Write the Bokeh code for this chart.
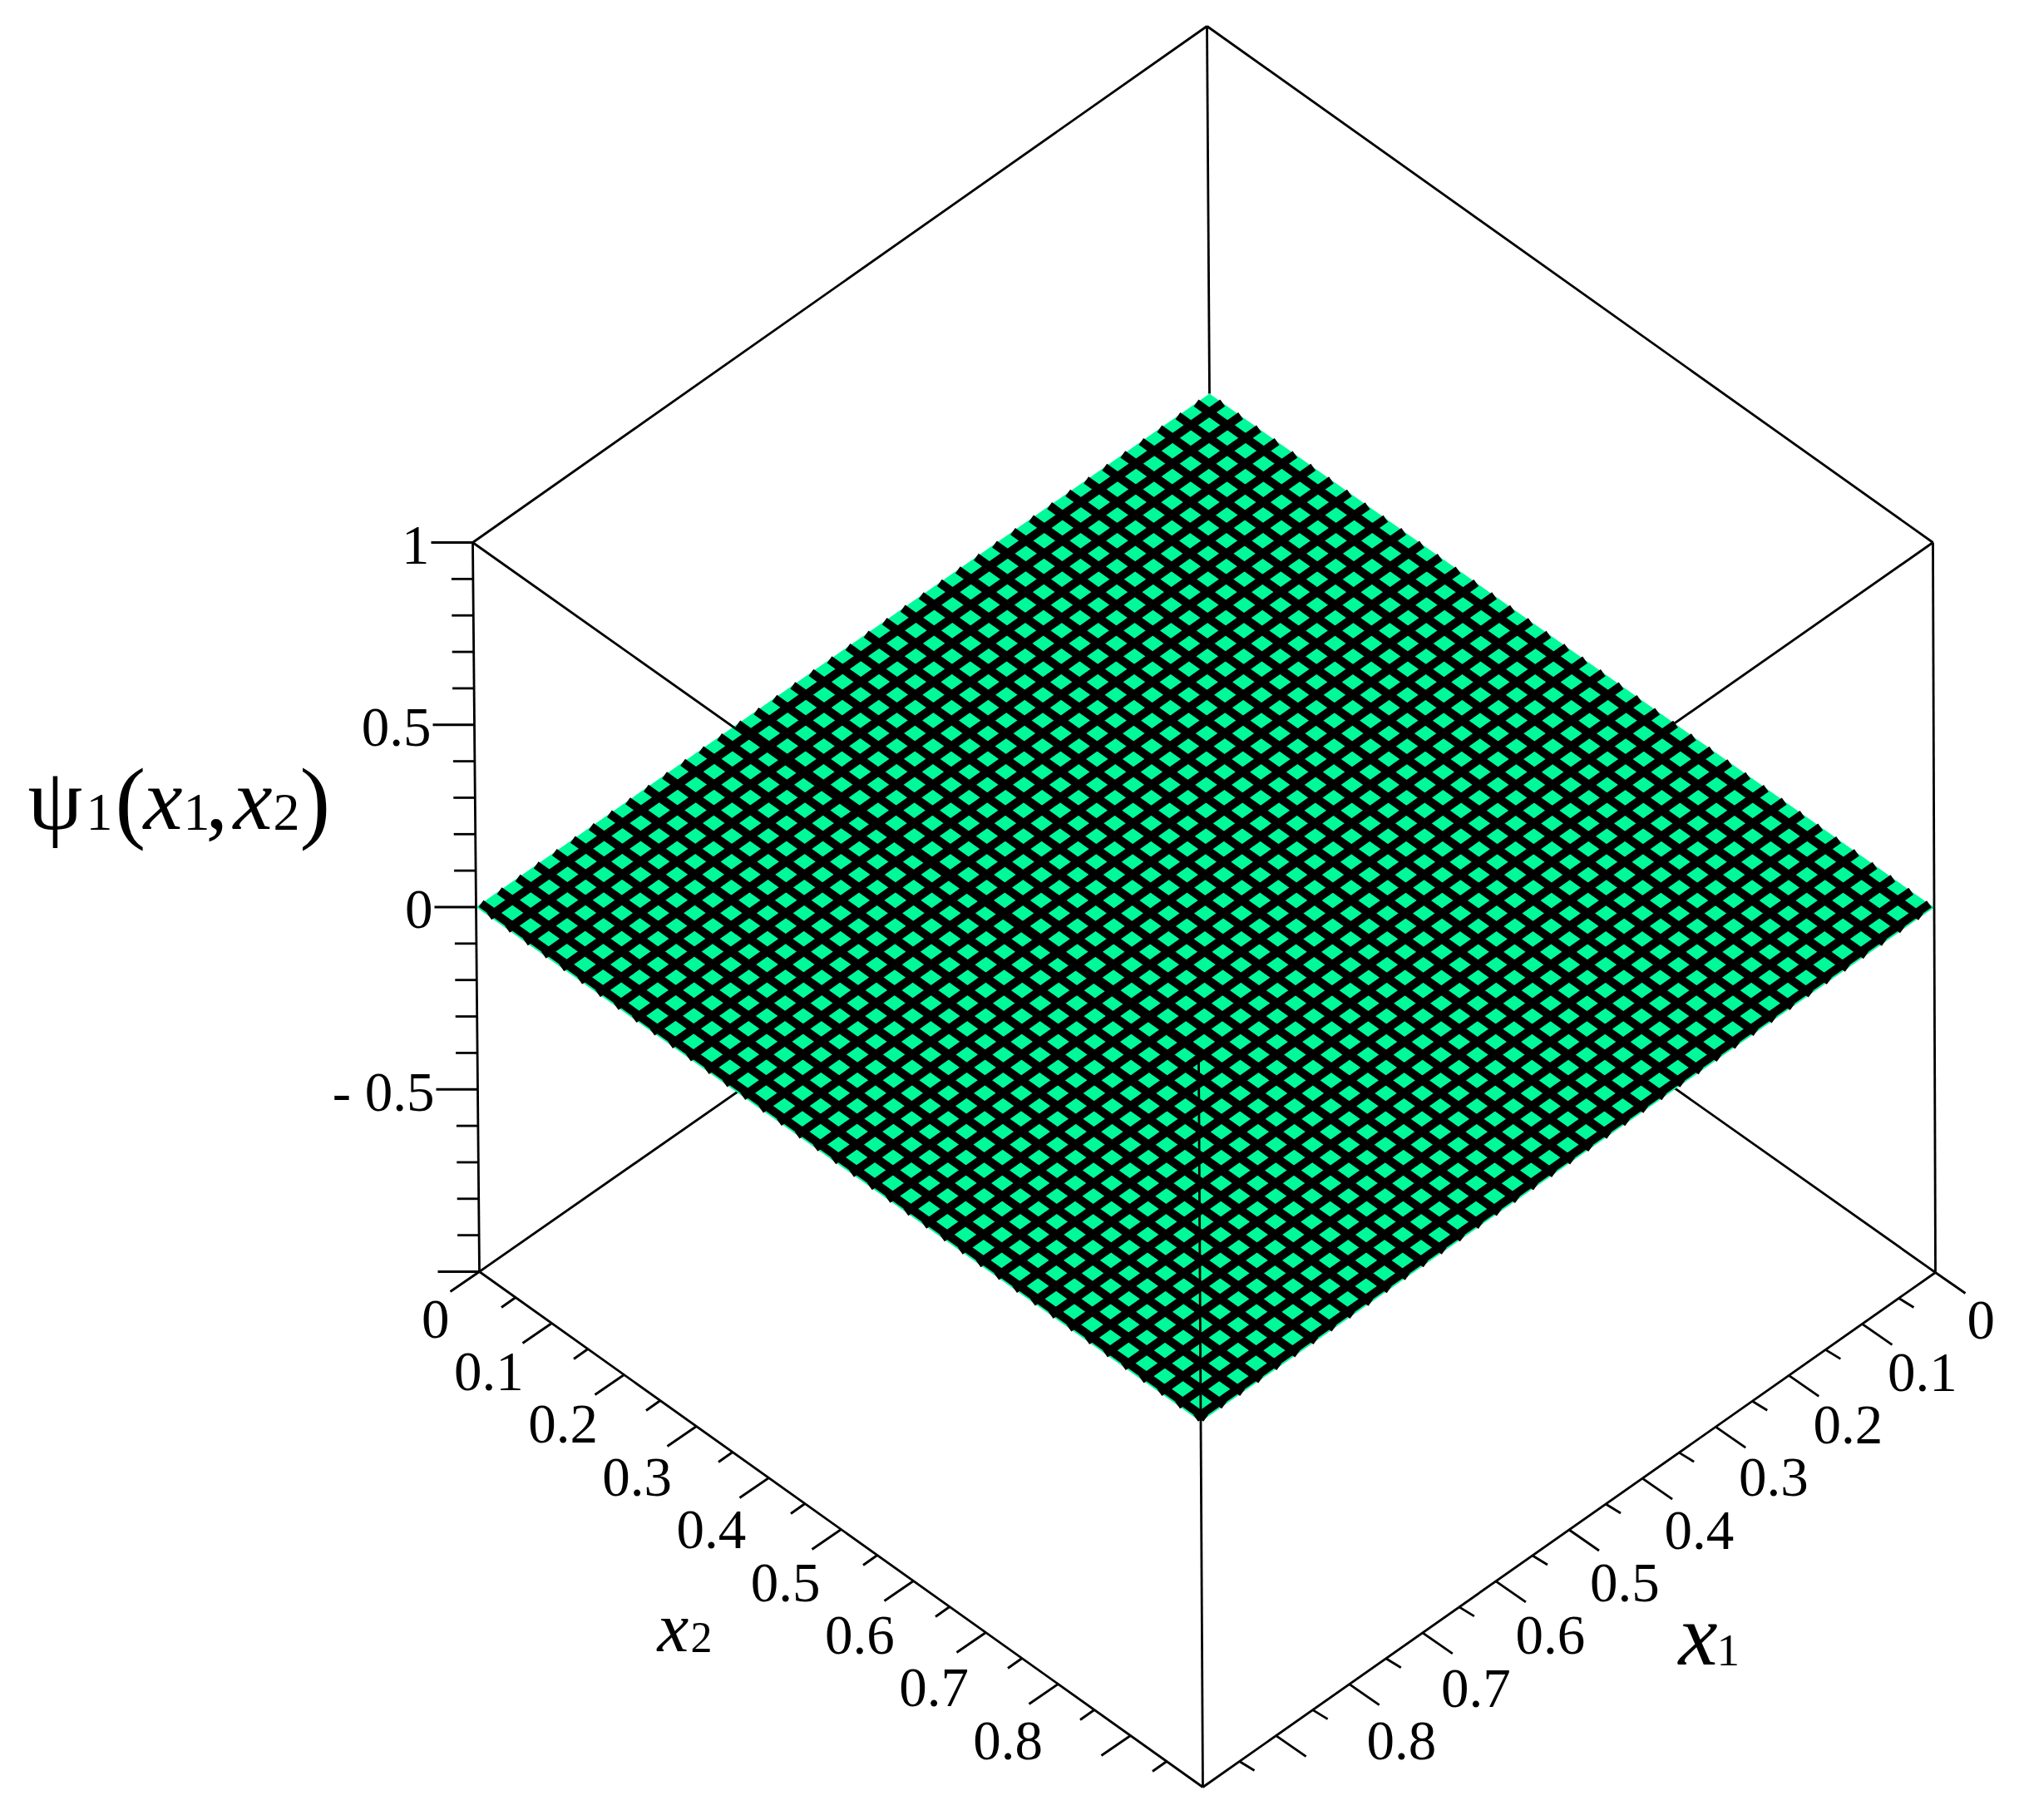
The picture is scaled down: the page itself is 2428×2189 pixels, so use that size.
from bokeh.plotting import figure
from bokeh.embed import file_html
from bokeh.resources import INLINE
from bokeh.core.properties import value

# ---- data ----
plate_value = 0.0          # psi_1(x1, x2) is zero everywhere on the unit square
grid_cells = 40
z_major = [1, 0.5, 0, -0.5, -1]
z_major_labels = ["1", "0.5", "0", "- 0.5", ""]
z_minor = [0.9, 0.8, 0.7, 0.6, 0.4, 0.3, 0.2, 0.1, -0.1, -0.2, -0.3, -0.4, -0.6, -0.7, -0.8, -0.9]
x_major = [0, 0.1, 0.2, 0.3, 0.4, 0.5, 0.6, 0.7, 0.8, 0.9]
x_major_labels = ["0", "0.1", "0.2", "0.3", "0.4", "0.5", "0.6", "0.7", "0.8", ""]
x_minor = [0.05, 0.15, 0.25, 0.35, 0.45, 0.55, 0.65, 0.75, 0.85, 0.95]

W, H = 2428, 2189
SERIF = value("Liberation Serif")
GREEN = "#00fa9a"

# box corners on the page, (x1, x2) -> (z=+1, z=-1)
CORNERS = {
    (0, 0): ((1451, 31), (1457, 915)),
    (0, 1): ((2324, 652), (2327, 1530)),
    (1, 1): ((1441, 1270), (1446, 2149)),
    (1, 0): ((568, 652), (576, 1529)),
}


def proj(x1, x2, z):
    """Trilinear map from plot coordinates to page coordinates."""
    sx = sy = 0.0
    t = (z + 1) / 2
    for (a, b), (hi, lo) in CORNERS.items():
        w = (x1 if a else 1 - x1) * (x2 if b else 1 - x2)
        sx += w * (t * hi[0] + (1 - t) * lo[0])
        sy += w * (t * hi[1] + (1 - t) * lo[1])
    return sx, sy


p = figure(width=W - 16, height=H - 16, x_range=(0, W - 16), y_range=(H - 16, 0),
           output_backend="svg", toolbar_location=None, min_border=0,
           outline_line_color=None, background_fill_color="white")
p.axis.visible = False
p.grid.visible = False


def seg(a, b, width=2.8, color="black"):
    ax, ay = proj(*a)
    bx, by = proj(*b)
    p.line([ax, bx], [ay, by], line_color=color, line_width=width)


# box parts behind the plate
seg((0, 0, 1), (0, 0, plate_value))
seg((1, 0, -1), (0, 0, -1))
seg((0, 1, -1), (0, 0, -1))

# plate
cx, cy = zip(*[proj(*c, plate_value) for c in [(0, 0), (0, 1), (1, 1), (1, 0)]])
p.patch(list(cx), list(cy), fill_color=GREEN, line_color=None)

# mesh: the lines are drawn a fraction of a cell off the plate's cells
step = 1 / grid_cells
for i in range(grid_cells):
    u = (i + 0.725) * step
    ax, ay = proj(u, 0, plate_value)
    bx, by = proj(u, 1, plate_value)
    p.line([ax, bx], [ay, by], line_color="black", line_width=10)
    ax, ay = proj(0, u, plate_value)
    bx, by = proj(1, u, plate_value)
    p.line([ax, bx], [ay, by], line_color="black", line_width=10)

# box parts in front of the plate
seg((1, 0, 1), (0, 0, 1))
seg((0, 1, 1), (0, 0, 1))
seg((1, 0, 1), (1, 1, 1))
seg((0, 1, 1), (1, 1, 1))
seg((1, 0, 1), (1, 0, -1))
seg((0, 1, 1), (0, 1, -1))
seg((1, 1, 1), (1, 1, -1))
seg((1, 0, -1), (1, 1, -1))
seg((0, 1, -1), (1, 1, -1))


def tick(x, y, dx, dy):
    p.line([x, x + dx], [y, y + dy], line_color="black", line_width=2.8)


def put(x, y, txt, size=67, align="center", style="normal"):
    p.text([x], [y], text=[txt], text_font=SERIF, text_font_size=f"{size}px",
           text_align=align, text_baseline="middle", text_color="black",
           text_font_style=style)


# z axis
for z, lab in zip(z_major, z_major_labels):
    x, y = proj(1, 0, z)
    tick(x, y, -50, 0)
    if lab:
        put(x - 52, y + 3, lab, align="right")
for z in z_minor:
    x, y = proj(1, 0, z)
    tick(x, y, -26, 0)

# x2 axis (left edge, labels right-aligned)
for t, lab in zip(x_major, x_major_labels):
    x, y = proj(1, t, -1)
    tick(x, y, -35, 24)
    if lab:
        put(x - 36 + 22 * t, y + 57 + 14 * t, lab, align="right")
for t in x_minor:
    x, y = proj(1, t, -1)
    tick(x, y, -17, 12)

# x1 axis (right edge, labels left-aligned)
for t, lab in zip(x_major, x_major_labels):
    x, y = proj(t, 1, -1)
    tick(x, y, 36, 25)
    if lab:
        put(x + (38 if t == 0 else 32) - 14 * t, y + 57 + 14 * t, lab, align="left")
for t in x_minor:
    x, y = proj(t, 1, -1)
    tick(x, y, 18, 11)


def title(x, baseline_y, txt, size, style="normal"):
    # "middle" text sits with its baseline about 0.37 em under the anchor
    put(x, baseline_y - 0.37 * size, txt, size=size, align="left", style=style)


# axis titles
title(2018, 2005, "x", 106, "italic")
title(2064, 2005, "1", 55)
title(790, 1988, "x", 85, "italic")
title(830, 1988, "2", 52)

title(33, 1000, "ψ", 105)
title(103, 1000, "1", 64)
title(138, 1003, "(", 110)
title(172, 1000, "x", 106, "italic")
title(220, 1000, "1", 64)
title(247, 1000, ",", 106)
title(280, 1000, "x", 106, "italic")
title(328, 1000, "2", 64)
title(360, 1003, ")", 110)

open("out.html", "w").write(file_html(p, INLINE))
